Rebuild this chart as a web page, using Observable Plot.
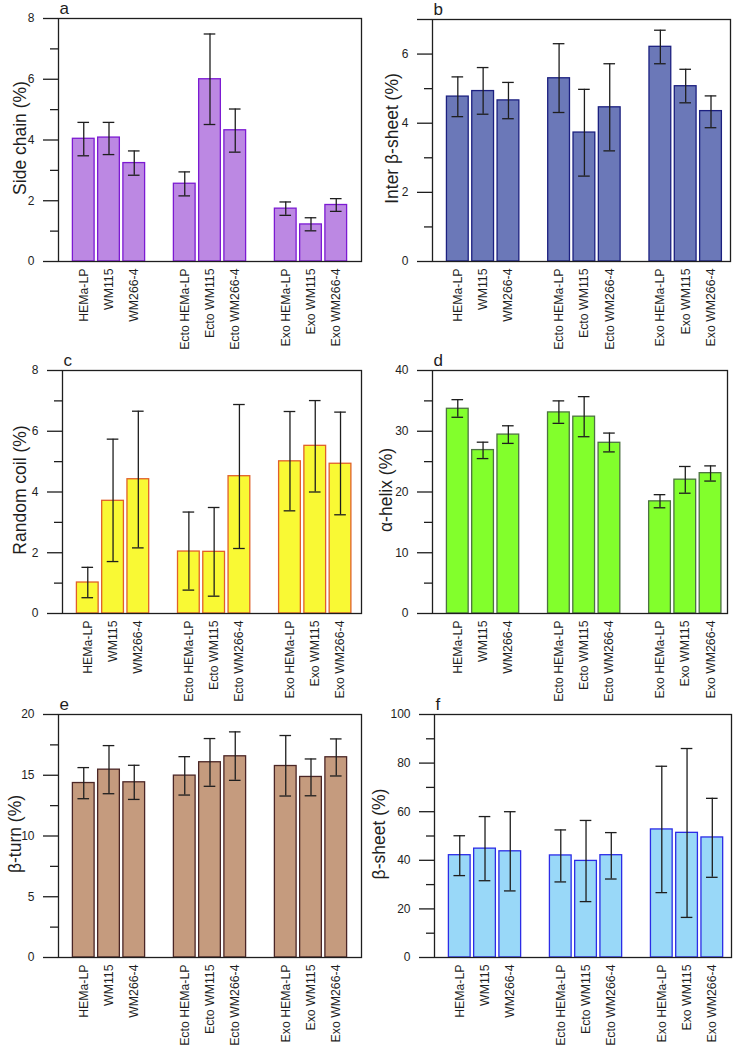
<!DOCTYPE html>
<html><head><meta charset="utf-8">
<script src="https://cdn.jsdelivr.net/npm/d3@7"></script>
<script src="https://cdn.jsdelivr.net/npm/@observablehq/plot@0.6"></script>
<style>
body{margin:0;background:#fff;}
#root{position:relative;width:738px;height:1049px;overflow:hidden;font-family:"Liberation Sans",Arial,sans-serif;}
.panel{position:absolute;}
.panel svg{overflow:visible;}
</style></head><body><div id="root"></div>
<script>
const categories = ["HEMa-LP","WM115","WM266-4","Ecto HEMa-LP","Ecto WM115","Ecto WM266-4","Exo HEMa-LP","Exo WM115","Exo WM266-4"];

const sideChain     = [4.04, 4.08, 3.24, 2.56, 6.00, 4.32, 1.74, 1.22, 1.86];
const sideChainLow  = [3.48, 3.52, 2.84, 2.16, 4.51, 3.60, 1.52, 1.01, 1.65];
const sideChainHigh = [4.58, 4.58, 3.64, 2.95, 7.49, 5.02, 1.96, 1.44, 2.07];

const interSheet     = [4.77, 4.93, 4.66, 5.30, 3.73, 4.46, 6.21, 5.07, 4.35];
const interSheetLow  = [4.19, 4.26, 4.13, 4.31, 2.47, 3.20, 5.72, 4.59, 3.87];
const interSheetHigh = [5.34, 5.61, 5.18, 6.30, 4.98, 5.72, 6.69, 5.56, 4.79];

const randomCoil     = [1.02, 3.71, 4.42, 2.04, 2.03, 4.52, 5.01, 5.52, 4.93];
const randomCoilLow  = [0.52, 1.71, 2.16, 0.77, 0.57, 2.14, 3.38, 4.00, 3.25];
const randomCoilHigh = [1.52, 5.74, 6.66, 3.34, 3.49, 6.88, 6.65, 7.01, 6.63];

const alphaHelix     = [33.7, 26.9, 29.45, 33.1, 32.4, 28.1, 18.46, 22.03, 23.1];
const alphaHelixLow  = [32.3, 25.5, 28.0, 31.3, 29.1, 26.6, 17.4, 19.8, 21.8];
const alphaHelixHigh = [35.2, 28.2, 30.9, 35.0, 35.7, 29.7, 19.56, 24.2, 24.3];

const betaTurn     = [14.36, 15.46, 14.42, 14.97, 16.07, 16.56, 15.76, 14.86, 16.48];
const betaTurnLow  = [13.07, 13.48, 13.01, 13.37, 14.09, 14.58, 13.29, 13.31, 14.94];
const betaTurnHigh = [15.63, 17.44, 15.82, 16.53, 18.02, 18.57, 18.27, 16.34, 17.99];

const betaSheet     = [42.1, 44.8, 43.7, 42.0, 39.75, 42.1, 52.7, 51.3, 49.4];
const betaSheetLow  = [33.7, 31.6, 27.4, 31.1, 23.0, 32.3, 26.7, 16.5, 33.0];
const betaSheetHigh = [50.1, 58.0, 60.0, 52.5, 56.4, 51.4, 78.7, 86.0, 65.5];

const panelLetters = ["a","b","c","d","e","f"];
const yLabels = ["Side chain (%)","Inter β-sheet (%)","Random coil (%)","α-helix (%)","β-turn (%)","β-sheet (%)"];
const yMaxes = [8, 7, 8, 40, 20, 100];
const yTickLabels = [[0,2,4,6,8],[0,2,4,6],[0,2,4,6,8],[0,10,20,30,40],[0,5,10,15,20],[0,20,40,60,80,100]];
const yMinorTicks = [[1,3,5,7],[1,3,5],[1,3,5,7],[5,15,25,35],[2.5,7.5,12.5,17.5],[10,30,50,70,90]];
const fills   = ["#bc88e3","#6b78b8","#f9f934","#82ff2c","#c59b7e","#99d8f8"];
const strokes = ["#7c1ad2","#1c2080","#e0602a","#4d7242","#4a2626","#2c2ce6"];
const means = [sideChain, interSheet, randomCoil, alphaHelix, betaTurn, betaSheet];
const lows  = [sideChainLow, interSheetLow, randomCoilLow, alphaHelixLow, betaTurnLow, betaSheetLow];
const highs = [sideChainHigh, interSheetHigh, randomCoilHigh, alphaHelixHigh, betaTurnHigh, betaSheetHigh];

// layout (pixels)
const layout = [
  {left:0,   top:0,   mL:58, mR:8,  mT:18, h:352, xMax:11,    off:45},
  {left:369, top:0,   mL:63, mR:8,  mT:19, h:352, xMax:10.77, off:47},
  {left:0,   top:352, mL:62, mR:8,  mT:18, h:352, xMax:10.83, off:49},
  {left:369, top:352, mL:63, mR:11, mT:18, h:352, xMax:10.67, off:53},
  {left:0,   top:696, mL:58, mR:8,  mT:18, h:353, xMax:11,    off:50},
  {left:369, top:696, mL:65, mR:7,  mT:18, h:353, xMax:10.76, off:62}
];

const root = document.getElementById("root");
const ink = "#1e1e1e";

panelLetters.forEach((letter, p) => {
  const L = layout[p];
  const data = categories.map((c, i) => ({
    cat: c, pos: i + Math.floor(i / 3), mean: means[p][i], lo: lows[p][i], hi: highs[p][i]
  }));
  const posToCat = new Map(data.map(d => [d.pos, d.cat]));
  const yMax = yMaxes[p];
  const majors = Array.from(new Set([...yTickLabels[p], yMax]));
  const chart = Plot.plot({
    width: 369,
    height: L.h,
    marginLeft: L.mL,
    marginRight: L.mR,
    marginTop: L.mT,
    marginBottom: L.h - 261,
    style: {fontFamily: '"Liberation Sans", Arial, sans-serif', fontSize: "12px", color: ink, background: "transparent", overflow: "visible"},
    x: {type: "linear", domain: [-1, L.xMax]},
    y: {domain: [0, yMax]},
    marks: [
      Plot.rectY(data, {x1: d => d.pos - 0.43, x2: d => d.pos + 0.43, y: "mean", fill: fills[p], stroke: strokes[p], strokeWidth: 1.3}),
      Plot.ruleX(data, {x: "pos", y1: "lo", y2: "hi", stroke: ink, strokeWidth: 1.3}),
      Plot.ruleY(data, {y: "hi", x1: d => d.pos - 0.23, x2: d => d.pos + 0.23, stroke: ink, strokeWidth: 1.3}),
      Plot.ruleY(data, {y: "lo", x1: d => d.pos - 0.23, x2: d => d.pos + 0.23, stroke: ink, strokeWidth: 1.3}),
      Plot.frame({stroke: ink, strokeWidth: 1.3}),
      Plot.axisY({ticks: majors, tickSize: 15, tickPadding: 9, tickFormat: d => yTickLabels[p].includes(d) ? String(d) : "",
        fontSize: 12, label: null, stroke: ink, strokeWidth: 1.3}),
      Plot.axisY({ticks: yMinorTicks[p], tickSize: 8, tickFormat: () => "", label: null, stroke: ink, strokeWidth: 1.3}),
      Plot.axisX({ticks: data.map(d => d.pos), tickFormat: d => posToCat.get(d), tickRotate: -90, tickSize: 0, tickPadding: 7, fontSize: 12.3, label: null}),
      Plot.text([yLabels[p]], {frameAnchor: "left", text: d => d, rotate: -90, textAnchor: "middle", lineAnchor: "top", dx: -L.off, dy: -2, fontSize: 17.5, fill: ink}),
      Plot.text([letter], {frameAnchor: "top-left", text: d => d, textAnchor: "start", lineAnchor: "bottom", dx: 1, dy: -5, fontSize: 17, fill: ink})
    ]
  });
  const div = document.createElement("div");
  div.className = "panel";
  div.style.left = L.left + "px";
  div.style.top = L.top + "px";
  div.appendChild(chart);
  root.appendChild(div);
});
</script></body></html>
